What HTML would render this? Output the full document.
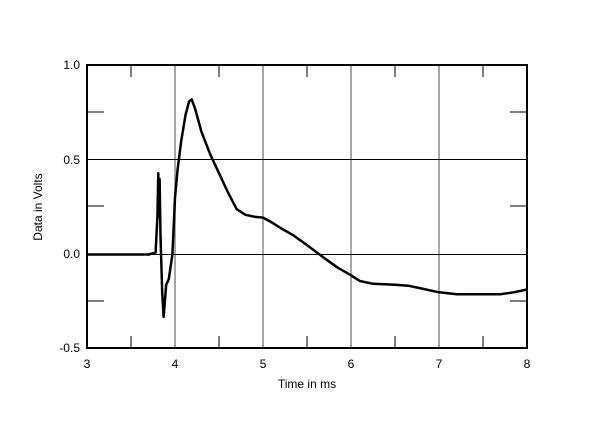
<!DOCTYPE html>
<html><head><style>
html,body{margin:0;padding:0;background:#fff;}
svg{display:block;font-family:"Liberation Sans",Arial,sans-serif;}
</style></head><body>
<svg width="600" height="428" viewBox="0 0 600 428" xmlns="http://www.w3.org/2000/svg">
<rect width="600" height="428" fill="#fff"/>
<g stroke="#888" stroke-width="1.5">
<line x1="175" y1="65" x2="175" y2="348"/>
<line x1="263" y1="65" x2="263" y2="348"/>
<line x1="351" y1="65" x2="351" y2="348"/>
<line x1="439" y1="65" x2="439" y2="348"/>
</g>
<g stroke="#000" stroke-width="1">
<line x1="87" y1="159.5" x2="527" y2="159.5"/>
<line x1="87" y1="254.5" x2="527" y2="254.5"/>
<line x1="131" y1="65" x2="131" y2="77"/><line x1="131" y1="336" x2="131" y2="348"/>
<line x1="219" y1="65" x2="219" y2="77"/><line x1="219" y1="336" x2="219" y2="348"/>
<line x1="307" y1="65" x2="307" y2="77"/><line x1="307" y1="336" x2="307" y2="348"/>
<line x1="395" y1="65" x2="395" y2="77"/><line x1="395" y1="336" x2="395" y2="348"/>
<line x1="483" y1="65" x2="483" y2="77"/><line x1="483" y1="336" x2="483" y2="348"/>
<line x1="87" y1="112" x2="104" y2="112"/><line x1="510" y1="112" x2="527" y2="112"/>
<line x1="87" y1="206" x2="104" y2="206"/><line x1="510" y1="206" x2="527" y2="206"/>
<line x1="87" y1="301" x2="104" y2="301"/><line x1="510" y1="301" x2="527" y2="301"/>
</g>
<rect x="87" y="65" width="440" height="283" fill="none" stroke="#000" stroke-width="2"/>
<path id="c" fill="none" stroke="#000" stroke-width="2.5" stroke-linejoin="round"/>
<g font-size="12" fill="#000" text-anchor="end">
<text x="80" y="69">1.0</text>
<text x="80" y="164">0.5</text>
<text x="80" y="258">0.0</text>
<text x="80" y="352">-0.5</text>
</g>
<g font-size="12" fill="#000" text-anchor="middle">
<text x="87" y="368">3</text><text x="175" y="368">4</text><text x="263" y="368">5</text>
<text x="351" y="368">6</text><text x="439" y="368">7</text><text x="527" y="368">8</text>
<text x="307" y="388">Time in ms</text>
<text transform="translate(42,207) rotate(-90)">Data in Volts</text>
</g>
<script>
var d=[[3,0],[3.7,0],[3.78,0.01],[3.8,0.2],[3.81,0.43],[3.815,0.2],[3.825,0.4],[3.835,0.1],[3.855,-0.2],[3.87,-0.33],[3.9,-0.16],[3.93,-0.13],[3.97,0],[4.0,0.3],[4.03,0.45],[4.07,0.6],[4.12,0.74],[4.16,0.81],[4.19,0.82],[4.23,0.77],[4.3,0.65],[4.4,0.53],[4.5,0.43],[4.6,0.33],[4.7,0.24],[4.8,0.21],[4.9,0.2],[5.0,0.195],[5.1,0.17],[5.2,0.14],[5.35,0.1],[5.5,0.05],[5.7,-0.02],[5.85,-0.07],[6.0,-0.11],[6.1,-0.14],[6.25,-0.155],[6.5,-0.16],[6.65,-0.165],[6.8,-0.18],[7.0,-0.2],[7.2,-0.21],[7.5,-0.21],[7.7,-0.21],[7.85,-0.2],[8,-0.185]];
var s='';d.forEach(function(p,i){s+=(i?'L':'M')+(87+88*(p[0]-3)).toFixed(1)+' '+(254.5-189*p[1]).toFixed(1);});
document.getElementById('c').setAttribute('d',s);
</script>
</svg>
</body></html>
